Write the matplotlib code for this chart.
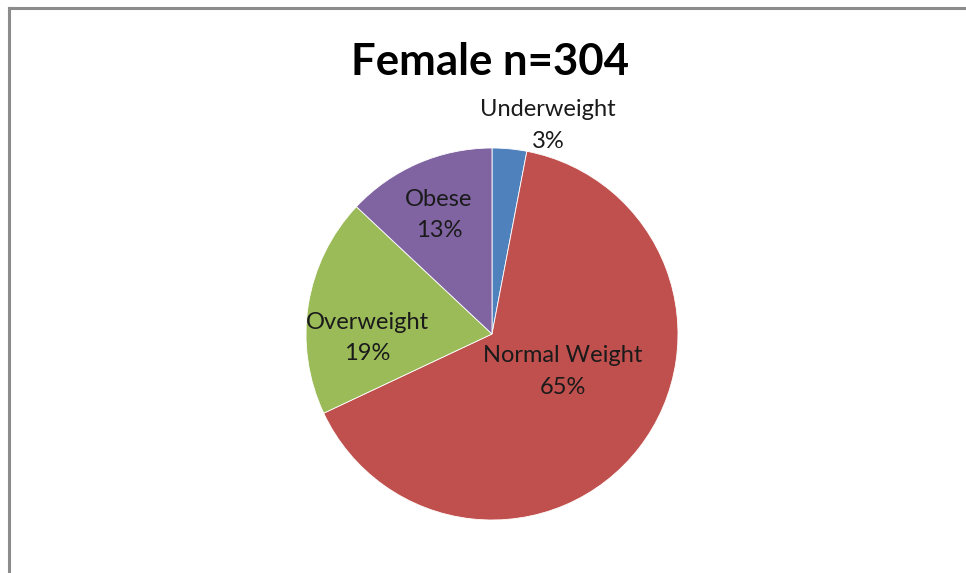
import matplotlib.pyplot as plt
import numpy as np
from matplotlib.lines import Line2D

categories = ['Underweight', 'Normal Weight', 'Overweight', 'Obese']
shares = [3, 65, 19, 13]
colors = ['#4F81BD', '#C0504D', '#9BBB59', '#8064A2']

# label placement: (radius as fraction of pie radius, angle in degrees)
label_pos = [(1.16, 75), (0.43, -28), (0.67, 182), (0.70, 114)]

W, H = 966, 573
fig = plt.figure(figsize=(W / 100, H / 100), dpi=100)

# chart frame, only top and left edges fall inside the canvas
fig.add_artist(Line2D([8.5 / W, 8.5 / W], [0, 1 - 7.5 / H], color='#8c8c8c', lw=2.2))
fig.add_artist(Line2D([8.5 / W, 1], [1 - 7.5 / H, 1 - 7.5 / H], color='#8c8c8c', lw=2.2))

cx, cy, r = 492, 334, 186
ax = fig.add_axes([(cx - r) / W, (H - cy - r) / H, 2 * r / W, 2 * r / H])
ax.pie(shares, colors=colors, startangle=90, counterclock=False, radius=1,
       wedgeprops=dict(edgecolor='white', linewidth=0.6))
ax.set_xlim(-1, 1)
ax.set_ylim(-1, 1)
ax.set_aspect('equal')
ax.axis('off')

for name, val, (d, ang) in zip(categories, shares, label_pos):
    t = np.deg2rad(ang)
    ax.text(d * np.cos(t), d * np.sin(t), f'{name}\n{val}%', ha='center', va='center',
            fontsize=17, family='Lato', color='#1a1a1a', linespacing=1.6, clip_on=False)

fig.text(490 / W, 1 - 62 / H, 'Female n=304', ha='center', va='center',
         fontsize=31.5, fontweight='bold', family='Lato', color='black')

fig.savefig('out.png', dpi=100)
